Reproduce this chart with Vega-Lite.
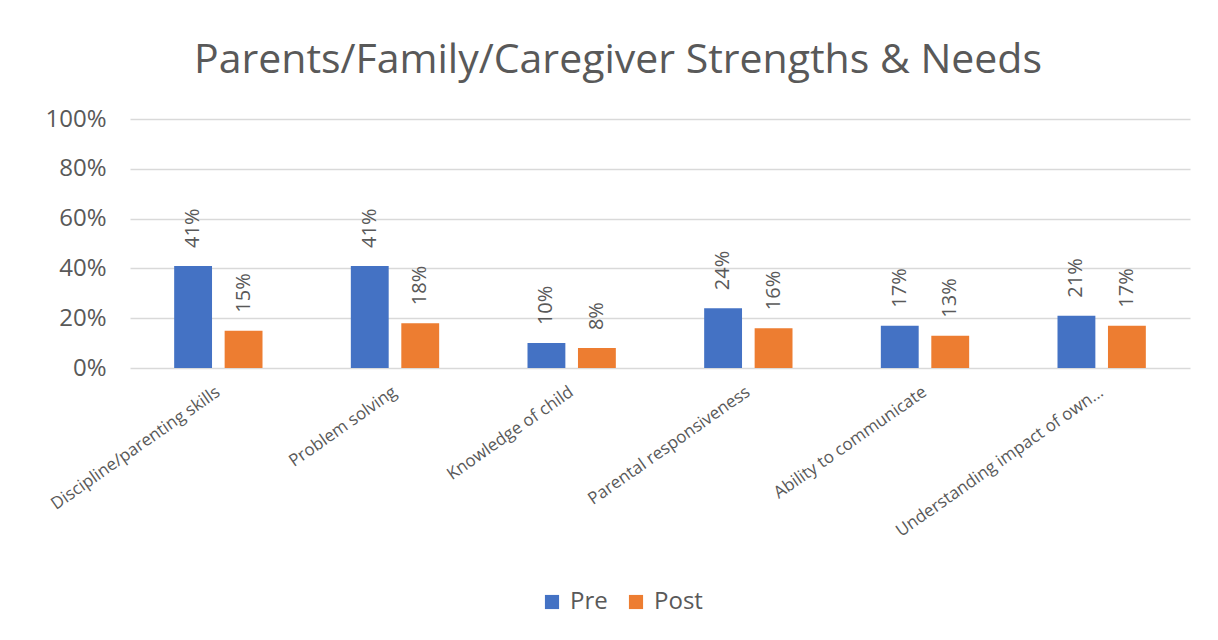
{
  "$schema": "https://vega.github.io/schema/vega-lite/v6.json",
  "width": 1060,
  "height": 249,
  "autosize": {"type": "none"},
  "padding": {"left": 130, "top": 119, "right": 28, "bottom": 272},
  "background": "#ffffff",
  "title": {
    "text": "Parents/Family/Caregiver Strengths & Needs",
    "fontSize": 41,
    "font": "Open Sans",
    "fontWeight": "normal",
    "color": "#595959",
    "anchor": "middle",
    "dx": -42,
    "offset": 25
  },
  "data": {
    "values": [
      {"category": "Discipline/parenting skills", "series": "Pre", "value": 0.41},
      {"category": "Discipline/parenting skills", "series": "Post", "value": 0.15},
      {"category": "Problem solving", "series": "Pre", "value": 0.41},
      {"category": "Problem solving", "series": "Post", "value": 0.18},
      {"category": "Knowledge of child", "series": "Pre", "value": 0.10},
      {"category": "Knowledge of child", "series": "Post", "value": 0.08},
      {"category": "Parental responsiveness", "series": "Pre", "value": 0.24},
      {"category": "Parental responsiveness", "series": "Post", "value": 0.16},
      {"category": "Ability to communicate", "series": "Pre", "value": 0.17},
      {"category": "Ability to communicate", "series": "Post", "value": 0.13},
      {"category": "Understanding impact of own...", "series": "Pre", "value": 0.21},
      {"category": "Understanding impact of own...", "series": "Post", "value": 0.17}
    ]
  },
  "encoding": {
    "x": {
      "field": "category",
      "type": "nominal",
      "sort": null,
      "scale": {"paddingInner": 0.5, "paddingOuter": 0.25},
      "axis": {
        "title": null,
        "labelAngle": -35,
        "labelAlign": "right",
        "labelBaseline": "middle",
        "labelFont": "Open Sans",
        "labelFontSize": 17,
        "labelColor": "#595959",
        "labelPadding": 22,
        "labelLimit": 400,
        "ticks": false,
        "domain": false,
        "grid": false
      }
    },
    "xOffset": {
      "field": "series",
      "type": "nominal",
      "sort": ["Pre", "Post"],
      "scale": {"paddingInner": 0.25}
    },
    "y": {
      "field": "value",
      "type": "quantitative",
      "scale": {"domain": [0, 1], "nice": false},
      "axis": {
        "title": null,
        "format": ".0%",
        "values": [0, 0.2, 0.4, 0.6, 0.8, 1],
        "labelFont": "Open Sans",
        "labelFontSize": 24,
        "labelColor": "#595959",
        "labelPadding": 24,
        "ticks": false,
        "domain": false,
        "grid": true,
        "gridColor": "#d9d9d9",
        "gridWidth": 1.5
      }
    }
  },
  "layer": [
    {
      "mark": {"type": "bar"},
      "encoding": {
        "color": {
          "field": "series",
          "type": "nominal",
          "sort": ["Pre", "Post"],
          "scale": {"domain": ["Pre", "Post"], "range": ["#4472C4", "#ED7D31"]},
          "legend": {
            "title": null,
            "orient": "none",
            "direction": "horizontal",
            "legendX": 410,
            "legendY": 471,
            "symbolType": "square",
            "symbolSize": 200,
            "symbolStrokeWidth": 0,
            "labelFont": "Open Sans",
            "labelFontSize": 24,
            "labelColor": "#595959",
            "columnPadding": 16,
            "labelOffset": 6
          }
        }
      }
    },
    {
      "mark": {
        "type": "text",
        "angle": 270,
        "align": "left",
        "baseline": "middle",
        "dx": 18,
        "font": "Open Sans",
        "fontSize": 20,
        "color": "#595959"
      },
      "encoding": {
        "text": {"field": "value", "type": "quantitative", "format": ".0%"}
      }
    }
  ],
  "config": {"view": {"stroke": null}}
}
